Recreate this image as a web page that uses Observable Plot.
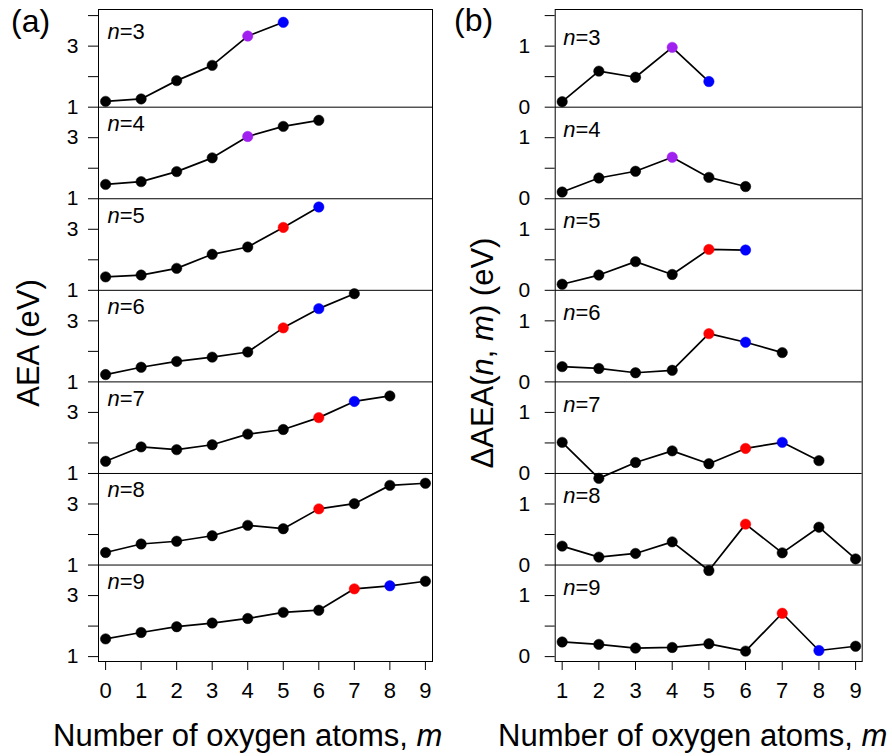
<!DOCTYPE html>
<html><head><meta charset="utf-8">
<script src="https://cdn.jsdelivr.net/npm/d3@7"></script>
<script src="https://cdn.jsdelivr.net/npm/@observablehq/plot@0.6"></script>
<style>
body{margin:0;background:#fff;}
#wrap{position:relative;width:892px;height:756px;font-family:"Liberation Sans",Arial,sans-serif;background:#fff;}
.pl{position:absolute;top:0;}
#ov{position:absolute;left:0;top:0;pointer-events:none;}
</style></head><body><div id="wrap"></div>
<script>
// ---------- data ----------
const nValues = [3, 4, 5, 6, 7, 8, 9];
const mAxisA = [0, 1, 2, 3, 4, 5, 6, 7, 8, 9];
const mAxisB = [1, 2, 3, 4, 5, 6, 7, 8, 9];

// AEA(n, m) in eV, m starts at 0
const aea3 = [1.19, 1.27, 1.87, 2.37, 3.33, 3.78];
const aea4 = [1.47, 1.56, 1.89, 2.34, 3.04, 3.37, 3.57];
const aea5 = [1.44, 1.50, 1.72, 2.18, 2.42, 3.06, 3.73];
const aea6 = [1.24, 1.48, 1.67, 1.81, 1.98, 2.77, 3.40, 3.89];
const aea7 = [1.40, 1.87, 1.78, 1.94, 2.29, 2.44, 2.83, 3.36, 3.54];
const aea8 = [1.41, 1.69, 1.78, 1.96, 2.30, 2.19, 2.84, 3.01, 3.61, 3.68];
const aea9 = [1.58, 1.79, 1.98, 2.10, 2.25, 2.45, 2.52, 3.22, 3.32, 3.47];

// ΔAEA(n, m) in eV, m starts at 1
const dAea3 = [0.09, 0.59, 0.49, 0.98, 0.42];
const dAea4 = [0.11, 0.34, 0.45, 0.68, 0.35, 0.20];
const dAea5 = [0.10, 0.25, 0.47, 0.26, 0.67, 0.66];
const dAea6 = [0.25, 0.22, 0.15, 0.19, 0.79, 0.65, 0.48];
const dAea7 = [0.51, -0.08, 0.18, 0.37, 0.16, 0.41, 0.51, 0.21];
const dAea8 = [0.31, 0.13, 0.19, 0.38, -0.09, 0.67, 0.20, 0.62, 0.10];
const dAea9 = [0.24, 0.20, 0.14, 0.15, 0.21, 0.09, 0.71, 0.10, 0.17];

// highlighted m per n
const purpleAt = {3: 4, 4: 4};
const redAt = {5: 5, 6: 5, 7: 6, 8: 6, 9: 7};
const blueAt = {3: 5, 5: 6, 6: 6, 7: 7, 9: 8};
const colorPurple = "#a020f0", colorRed = "#ff0000", colorBlue = "#0000ff", colorBase = "#000000";

// y ticks within one sub-panel
const aeaTicks = [1, 2, 3];
const aeaTickLabels = ["1", "", "3"];
const dTicks = [0, 0.5, 1];
const dTickLabels = ["0", "", "1"];

// ---------- build ----------
const aeaSeries = [aea3, aea4, aea5, aea6, aea7, aea8, aea9];
const dSeries = [dAea3, dAea4, dAea5, dAea6, dAea7, dAea8, dAea9];
const spanA = 3, spanB = 1.5;
const nPanels = nValues.length;

function colorOf(n, m) {
  if (purpleAt[n] === m) return colorPurple;
  if (redAt[n] === m) return colorRed;
  if (blueAt[n] === m) return colorBlue;
  return colorBase;
}

const rowsA = [], rowsB = [];
nValues.forEach((n, k) => {
  const offA = (nPanels - 1 - k) * spanA;
  aeaSeries[k].forEach((v, i) => rowsA.push({n, m: i, v, yc: v + offA, color: colorOf(n, i)}));
  const offB = (nPanels - 1 - k) * spanB;
  dSeries[k].forEach((v, i) => rowsB.push({n, m: i + 1, v, yc: v + offB, color: colorOf(n, i + 1)}));
});

function buildTicks(ticks, labels, span, base) {
  const vals = [], lab = new Map();
  for (let k = 0; k < nPanels; k++) {
    const off = (nPanels - 1 - k) * span;
    ticks.forEach((t, j) => {
      const c = t + off;
      const key = c.toFixed(3);
      if (!lab.has(key)) { vals.push(c); lab.set(key, labels[j]); }
    });
  }
  const top = base + nPanels * span; // unlabeled top tick
  vals.push(top); lab.set(top.toFixed(3), "");
  return {vals, fmt: d => lab.get((+d).toFixed(3)) ?? ""};
}
const tA = buildTicks(aeaTicks, aeaTickLabels, spanA, 1);
const tB = buildTicks(dTicks, dTickLabels, spanB, 0);

const boundsA = d3.range(1, nPanels).map(i => 1 + i * spanA);
const boundsB = d3.range(1, nPanels).map(i => 0 + i * spanB);

const labRowsA = nValues.map((n, k) => ({n, yc: 1 + (nPanels - k) * spanA - 0.55, rest: "=" + n}));
const labRowsB = nValues.map((n, k) => ({n, yc: (nPanels - k) * spanB - 0.37, rest: "=" + n}));

const FONT = "Liberation Sans, Arial, sans-serif";
const LABEL_FS = 22;

function panel({rows, xDomain, yDomain, marginLeft, marginRight, ticks, xTicks, bounds, labRows, labDx}) {
  return Plot.plot({
    width: 446, height: 756,
    marginLeft, marginRight, marginTop: 9, marginBottom: 95,
    x: {domain: xDomain},
    y: {domain: yDomain},
    color: {type: "identity"},
    style: {fontFamily: FONT, background: "transparent", color: "#000"},
    marks: [
      Plot.ruleY(bounds, {stroke: "#000", strokeWidth: 1}),
      Plot.frame({stroke: "#000", strokeWidth: 1}),
      Plot.axisY({ticks: ticks.vals, tickFormat: ticks.fmt, tickSize: 10, tickPadding: labDx.tp, fontSize: 21, label: null}),
      Plot.axisX({ticks: xTicks, tickFormat: d => String(d), tickSize: 9, tickPadding: 12, fontSize: 22, label: null}),
      Plot.line(rows, {x: "m", y: "yc", z: "n", stroke: "#000", strokeWidth: 1.7}),
      Plot.dot(rows, {x: "m", y: "yc", r: 5.2, fill: "color", stroke: "color", strokeWidth: 0.5}),
      Plot.text(labRows, {y: "yc", text: () => "n", frameAnchor: "left", dx: labDx.d, textAnchor: "start", fontStyle: "italic", fontSize: LABEL_FS}),
      Plot.text(labRows, {y: "yc", text: "rest", frameAnchor: "left", dx: labDx.d + 0.556 * LABEL_FS, textAnchor: "start", fontSize: LABEL_FS})
    ]
  });
}

const plotA = panel({
  rows: rowsA, xDomain: [-0.2, 9.2], yDomain: [0.84, 22.2],
  marginLeft: 98, marginRight: 14, ticks: tA, xTicks: mAxisA,
  bounds: boundsA, labRows: labRowsA, labDx: {d: 9, tp: 10}
});
const plotB = panel({
  rows: rowsB, xDomain: [0.81, 9.18], yDomain: [-0.08, 10.6],
  marginLeft: 108.7, marginRight: 30.3, ticks: tB, xTicks: mAxisB,
  bounds: boundsB, labRows: labRowsB, labDx: {d: 8, tp: 15}
});

const wrap = document.getElementById("wrap");
plotA.classList.add("pl"); plotA.style.left = "0px";
plotB.classList.add("pl"); plotB.style.left = "446px";
wrap.appendChild(plotA);
wrap.appendChild(plotB);

// ---------- titles / annotations ----------
const ov = d3.select(wrap).append("svg").attr("id", "ov").attr("width", 892).attr("height", 756)
  .style("font-family", FONT).style("fill", "#000");

ov.append("text").attr("x", 11).attr("y", 32).attr("font-size", 32).text("(a)");
ov.append("text").attr("x", 454).attr("y", 31).attr("font-size", 32).text("(b)");

ov.append("text").attr("transform", "translate(39,343) rotate(-90)").attr("text-anchor", "middle")
  .attr("font-size", 31).text("AEA (eV)");

const tb = ov.append("text").attr("transform", "translate(493,353) rotate(-90)").attr("text-anchor", "middle")
  .attr("font-size", 31);
tb.append("tspan").text("\u0394AEA(");
tb.append("tspan").attr("font-style", "italic").text("n");
tb.append("tspan").text(", ");
tb.append("tspan").attr("font-style", "italic").text("m");
tb.append("tspan").text(") (eV)");

function xTitle(x) {
  const t = ov.append("text").attr("x", x).attr("y", 746).attr("font-size", 31);
  t.append("tspan").text("Number of oxygen atoms, ");
  t.append("tspan").attr("font-style", "italic").text("m");
}
xTitle(53);
xTitle(498);
</script></body></html>
